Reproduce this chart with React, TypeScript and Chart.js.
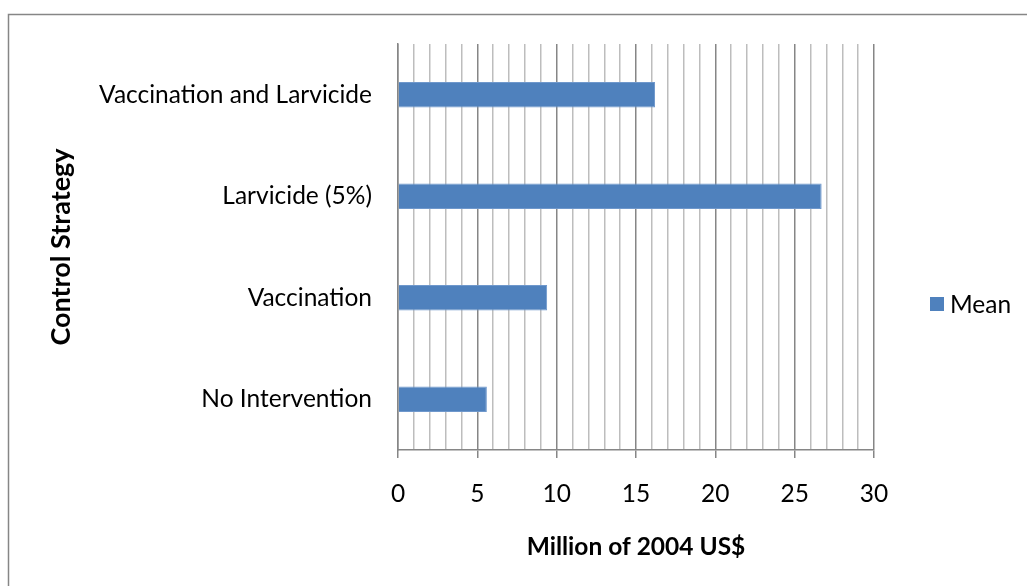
import React, { useEffect, useRef } from "react";
import { Chart, registerables } from "chart.js";

Chart.register(...registerables);

const categories = ["Vaccination and Larvicide", "Larvicide (5%)", "Vaccination", "No Intervention"];
const meanValues = [16.2, 26.7, 9.4, 5.6];
const seriesName = "Mean";
const xTickLabels = [0, 5, 10, 15, 20, 25, 30];
const xTitle = "Million of 2004 US$";
const yTitle = "Control Strategy";

const FONT = "Lato";
const BAR = "#4F81BD";
const MAJOR = "#868686";
const MINOR = "#bdbdbd";

const framePlugin = {
  id: "frame",
  beforeDraw(chart: any) {
    const c = chart.ctx;
    c.save();
    c.fillStyle = "#fff";
    c.fillRect(0, 0, chart.width, chart.height);
    c.strokeStyle = MAJOR;
    c.lineWidth = 1.5;
    c.beginPath();
    c.moveTo(8.5, chart.height);
    c.lineTo(8.5, 14.5);
    c.lineTo(chart.width, 14.5);
    c.stroke();
    c.restore();
  },
};

const sideLegendPlugin = {
  id: "sideLegend",
  afterDraw(chart: any) {
    const c = chart.ctx;
    const ds = chart.data.datasets[0];
    const ca = chart.chartArea;
    const x = ca.right + 56;
    const y = 304;
    c.save();
    c.fillStyle = ds.backgroundColor;
    c.fillRect(x, y - 7, 14, 14);
    c.fillStyle = "#000";
    c.font = `24.5px ${FONT}`;
    c.textBaseline = "middle";
    c.textAlign = "left";
    c.fillText(ds.label, x + 20, y + 1);
    c.restore();
  },
};

export default function App() {
  const ref = useRef<HTMLCanvasElement | null>(null);

  useEffect(() => {
    if (!ref.current) return;
    const chart = new Chart(ref.current, {
      type: "bar",
      data: {
        labels: categories,
        datasets: [
          {
            label: seriesName,
            data: meanValues,
            backgroundColor: BAR,
            borderColor: "#6f98cc",
            borderWidth: 1,
            categoryPercentage: 1,
            barPercentage: 0.25,
          },
        ],
      },
      plugins: [framePlugin, sideLegendPlugin],
      options: {
        indexAxis: "y",
        responsive: false,
        animation: false,
        devicePixelRatio: 1,
        layout: { padding: { left: 0, top: 44, right: 153, bottom: 0 } },
        plugins: {
          legend: { display: false },
          tooltip: { enabled: false },
        },
        scales: {
          x: {
            type: "linear",
            position: "bottom",
            min: 0,
            max: 30,
            afterFit(scale: any) {
              scale.height = 136;
            },
            ticks: {
              stepSize: 1,
              autoSkip: false,
              maxRotation: 0,
              padding: 21,
              color: "#000",
              font: { family: FONT, size: 24.5 },
              callback: (v: any) => (xTickLabels.includes(Number(v)) ? String(v) : ""),
            },
            grid: {
              drawTicks: true,
              tickLength: 8,
              lineWidth: 1.5,
              color: (ctx: any) => (ctx.tick && ctx.tick.value % 5 === 0 ? MAJOR : MINOR),
              tickColor: (ctx: any) => (ctx.tick && ctx.tick.value % 5 === 0 ? MAJOR : "rgba(0,0,0,0)"),
            },
            border: { display: true, color: MAJOR, width: 1.5 },
            title: {
              display: true,
              text: xTitle,
              color: "#000",
              font: { family: FONT, size: 24.5, weight: "bold" },
              padding: { top: 0, bottom: 24 },
            },
          },
          y: {
            type: "category",
            position: "left",
            afterFit(scale: any) {
              scale.width = 398;
            },
            ticks: {
              padding: 26,
              color: "#000",
              font: { family: FONT, size: 24.5 },
            },
            grid: { display: false, drawTicks: false },
            border: { display: true, color: MAJOR, width: 1.5 },
            title: {
              display: true,
              text: yTitle,
              color: "#000",
              font: { family: FONT, size: 27, weight: "bold" },
              padding: { top: 45, bottom: 0 },
            },
          },
        },
      },
    } as any);
    return () => chart.destroy();
  }, []);

  return (
    <div style={{ position: "fixed", left: 0, top: 0, width: 1027, height: 586, background: "#fff" }}>
      <canvas ref={ref} width={1027} height={586} style={{ display: "block" }} />
    </div>
  );
}
